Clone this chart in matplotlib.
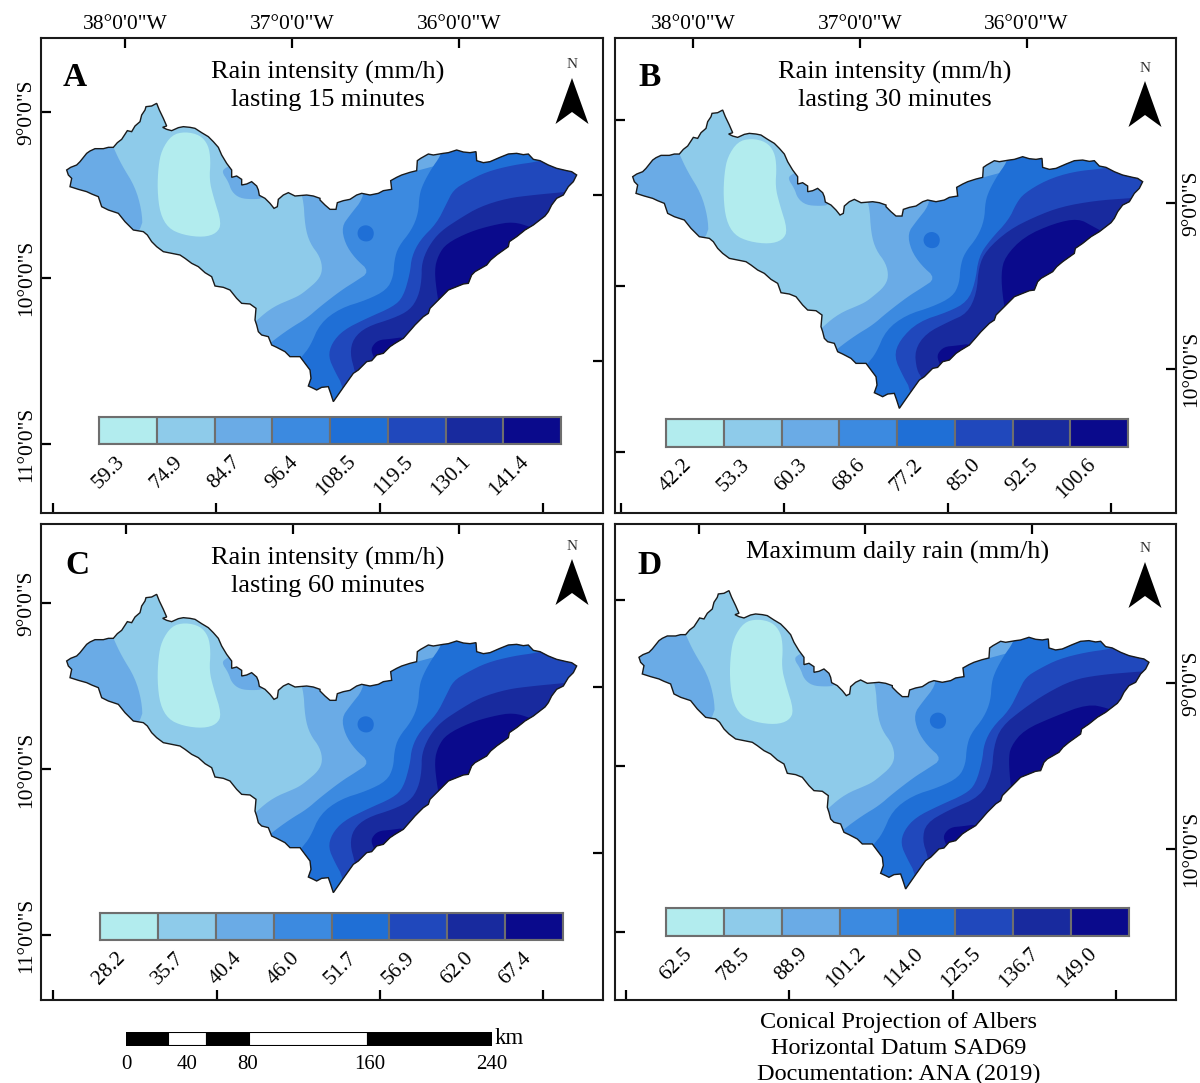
# plot.py - four rain intensity maps of the basin with class colour bars
import numpy as np
import matplotlib
matplotlib.use("Agg")
import matplotlib.pyplot as plt
from matplotlib.patches import Polygon

plt.rcParams["font.family"] = ["Liberation Serif", "DejaVu Serif"]

W, H = 1200, 1083

class_colors = ["#b2ecee", "#8ecbea", "#6aabe6", "#3c8ae0", "#1f6fd6", "#2048bc", "#182a9e", "#0a0a8c"]

labels_a = ["59.3", "74.9", "84.7", "96.4", "108.5", "119.5", "130.1", "141.4"]
labels_b = ["42.2", "53.3", "60.3", "68.6", "77.2", "85.0", "92.5", "100.6"]
labels_c = ["28.2", "35.7", "40.4", "46.0", "51.7", "56.9", "62.0", "67.4"]
labels_d = ["62.5", "78.5", "88.9", "101.2", "114.0", "125.5", "136.7", "149.0"]

lon_ticks = [125.5, 292.5, 459]
lon_labels = ["38°0'0\"W", "37°0'0\"W", "36°0'0\"W"]
lat_ticks = [112, 278, 444]
lat_labels = ["9°0'0\"S", "10°0'0\"S", "11°0'0\"S"]
right_ticks = [195, 361]
bottom_ticks = [53, 216.5, 380, 543]

# basin outline, two sheets of map units
outline_west = [(80,240),(92,232),(110,225),(120,215),(128,205),(140,190),(150,183),(165,176),(190,176),(205,172),(220,172),
    (232,158),(245,148),(262,122),(275,125),(285,108),(300,95),(305,75),(315,60),(318,50),(335,48),(350,40),(358,60),(370,85),
    (380,108),(368,112),(380,118),(395,122),(415,113),(430,110),(450,112),(465,115),(485,128),(505,140),(520,155),(535,172),
    (545,195),(560,220),(575,240),(575,262),(590,258),(605,268),(605,285),(620,282),(635,275),(650,288),(655,300),(658,316),
    (675,325),(690,340),(702,355),(712,350),(715,328),(730,315),(745,308),(765,318),(800,315),(820,318),(840,325)]
outline_east = [(60,180),(75,195),(90,208),(108,208),(112,188),(130,182),(150,178),(170,165),(185,160),(210,165),(235,160),
    (250,152),(275,148),(272,122),(290,112),(305,105),(330,97),(350,92),(352,62),(362,55),(385,42),(400,45),(430,40),(445,38),
    (470,30),(490,36),(510,38),(528,35),(530,62),(550,68),(570,65),(600,52),(625,42),(650,40),(670,44),(685,42),(700,58),
    (720,62),(745,75),(770,85),(800,92),(815,95),(830,105),(820,125),(805,140),(790,165),(770,175),(755,195),(745,215),
    (735,228),(700,255),(675,270),(650,290),(628,305),(625,320),(590,345),(572,360),(560,375),(525,395),(515,405),(505,430),
    (490,432),(470,440),(445,450),(420,475),(405,490),(390,505),(385,520),(370,530),(345,555),(325,578),(310,595),(285,610),
    (270,620),(250,640),(230,645),(215,662),(200,665),(175,690),(160,700),(130,742),(100,785),(92,760),(85,740),(65,742),
    (50,750),(40,745),(25,738),(33,715),(30,690),(15,670),(0,650)]
outline_south = [(750,800),(735,785),(710,772),(695,765),(685,740),(665,735),(655,725),(650,705),(645,690),(648,655),(630,642),
    (605,640),(590,625),(570,600),(550,592),(525,588),(515,560),(495,548),(475,530),(455,520),(435,505),(420,495),(395,490),
    (370,485),(350,470),(335,455),(322,435),(310,425),(280,420),(265,405),(255,395),(235,370),(205,360),(185,350),(175,320),
    (155,312),(140,305),(115,298),(90,290),(95,265),(85,255)]

# class areas, west sheet
bean = [(355,230),(365,180),(395,135),(435,125),(480,135),(505,165),(512,210),(508,270),(520,320),(545,400),(530,430),
    (490,442),(430,435),(385,415),(360,370),(352,300)]
west_band = [(220,172),(245,225),(285,290),(305,360),(308,420),(200,520),(20,320),(60,130),(200,120)]
north_patch = [(545,245),(558,232),(590,220),(680,290),(670,325),(640,328),(600,325),(575,305),(565,275)]

# class areas, east sheet
middle_band = [(-20,100),(10,170),(15,260),(30,310),(60,350),(68,390),(55,420),(20,450),(0,465),(-20,475),(-80,500),
    (-130,540),(-300,700),(-100,1000),(1100,1000),(1100,-100)]
band_3 = [(190,130),(190,175),(150,225),(125,260),(135,310),(165,355),(210,395),(165,425),(125,450),(60,500),(20,535),
    (-30,565),(-85,605),(-200,700),(-100,1000),(1100,1000),(1100,-100)]
spot = [(171,280),(178,262),(197,254),(216,262),(223,280),(216,300),(197,306),(178,298)]
band_4 = [(440,0),(420,50),(395,85),(370,130),(358,165),(355,220),(335,270),(295,320),(283,360),(280,410),(260,450),
    (200,480),(120,505),(60,550),(30,620),(5,650),(-30,700),(-100,1000),(1100,1000),(1100,-100)]
band_5 = [(800,40),(715,65),(640,75),(560,95),(500,125),(460,150),(440,190),(410,250),(360,300),(335,350),(330,400),
    (310,470),(280,500),(200,535),(130,570),(95,610),(85,650),(105,695),(130,740),(150,900),(1100,900),(1100,40)]
band_6 = [(850,150),(785,157),(700,165),(620,175),(540,200),(480,235),(420,275),(385,320),(365,370),(365,420),(355,470),
    (330,510),(280,535),(200,560),(160,595),(150,640),(165,695),(180,780),(1100,780),(1100,150)]
band_7 = [(720,275),(695,262),(640,245),(580,255),(510,275),(440,310),(415,345),(403,390),(412,470),(430,560),(800,400)]
south_7 = [(215,640),(215,620),(235,600),(270,597),(320,590),(340,640),(240,690)]

# panels B and D differ from A and C in the darkest classes
band_5_b = [(800,50),(716,65),(620,75),(541,100),(474,140),(451,170),(428,220),(372,280),(338,330),(327,410),(304,465),
    (248,495),(157,525),(101,580),(84,630),(112,690),(135,730),(150,900),(1100,900),(1100,50)]
band_6_b = [(850,150),(784,155),(688,162),(586,180),(507,210),(428,250),(361,310),(338,360),(332,440),(304,500),(248,525),
    (180,560),(146,610),(152,670),(169,695),(180,780),(1100,780),(1100,150)]
band_7_b = [(720,260),(682,240),(637,215),(564,230),(474,270),(417,330),(405,380),(411,460),(430,560),(800,400)]
band_6_d = [(850,130),(799,133),(680,143),(601,158),(522,198),(455,243),(387,298),(364,358),(359,438),(325,508),(229,548),
    (161,588),(150,638),(167,688),(180,780),(1100,780),(1100,130)]
band_7_d = [(740,260),(709,243),(646,230),(545,268),(455,308),(415,358),(409,398),(415,478),(430,560),(800,400)]

frames = {"A": (41, 38, 603, 513), "B": (614.5, 38, 1175.5, 513), "C": (41, 524, 603, 1000), "D": (614.5, 524, 1175.5, 1000)}
offsets = {"A": (0, 0), "B": (566, 6.7), "C": (0, 491), "D": (572.3, 487.3)}
tick_shift = {"A": 0, "B": 1.5, "C": 0.5, "D": 0.7}
bars = {"A": (99, 417, 561, 444), "B": (666, 419, 1128, 447), "C": (100, 912.5, 563, 940), "D": (666, 908, 1129, 936)}
bar_labels = {"A": labels_a, "B": labels_b, "C": labels_c, "D": labels_d}
titles = {"A": (328, 86, "Rain intensity (mm/h)\nlasting 15 minutes"), "B": (895, 86, "Rain intensity (mm/h)\nlasting 30 minutes"),
    "C": (328, 572, "Rain intensity (mm/h)\nlasting 60 minutes"), "D": (898, 552, "Maximum daily rain (mm/h)")}
letters = {"A": (75, 77), "B": (650, 77), "C": (77, 565), "D": (650, 565)}
norths = {"A": (572, 65), "B": (1145, 68), "C": (572, 546), "D": (1145, 549)}
dark_bands = {"A": (band_5, band_6, band_7), "B": (band_5_b, band_6_b, band_7_b), "C": (band_5, band_6, band_7), "D": (band_5, band_6_d, band_7_d)}

scale_edges = [0, 27.5, 53, 80.5, 159, 240]
scale_ticks = [0, 40, 80, 160, 240]


def west(pts):
    return np.array(pts, float) / 3 + [40, 90]


def east(pts):
    return np.array(pts, float) / 3 + [300, 140]


def smooth(pts, n=2):
    # corner cutting so class edges look like contours
    for _ in range(n):
        nxt = np.roll(pts, -1, axis=0)
        pts = np.column_stack([0.75 * pts + 0.25 * nxt, 0.25 * pts + 0.75 * nxt]).reshape(-1, 2)
    return pts


def rect(x0, y0, x1, y1):
    return [x0 / W, 1 - y1 / H, (x1 - x0) / W, (y1 - y0) / H]


outline = np.vstack([west(outline_west), east(outline_east), west(outline_south)])

fig = plt.figure(figsize=(W / 100, H / 100), dpi=100)

for key in "ABCD":
    x0, y0, x1, y1 = frames[key]
    dx, dy = offsets[key]
    shift = tick_shift[key]
    ax = fig.add_axes(rect(x0, y0, x1, y1))
    ax.set_xlim(x0 - dx, x1 - dx)
    ax.set_ylim(y1 - dy, y0 - dy)
    for s in ax.spines.values():
        s.set_linewidth(1.5)
        s.set_color("#1a1a1a")

    b5, b6, b7 = dark_bands[key]
    areas = [(west(west_band), 2), (west(north_patch), 2), (west(bean), 0), (east(middle_band), 2), (east(band_3), 3),
        (east(spot), 4), (east(band_4), 4), (east(b5), 5), (east(b6), 6), (east(b7), 7), (east(south_7), 7)]

    basin = Polygon(outline, closed=True, fc=class_colors[1], ec="none", zorder=1)
    ax.add_patch(basin)
    for pts, c in areas:
        p = Polygon(smooth(pts), closed=True, fc=class_colors[c], ec="none", zorder=2)
        ax.add_patch(p)
        p.set_clip_path(basin)
    ax.add_patch(Polygon(outline, closed=True, fc="none", ec="#1a1a1a", lw=1.0, zorder=3))

    # ticks point inward on all sides, labels only on the outer edges
    ax.set_xticks([t + shift for t in bottom_ticks])
    ax.set_yticks([t + shift for t in lat_ticks])
    ax.tick_params(direction="in", length=7, width=1.6, labelbottom=False, labelleft=False)
    top = ax.secondary_xaxis("top")
    top.set_xticks([t + shift for t in lon_ticks])
    top.tick_params(direction="in", length=7, width=1.6, pad=3, labelsize=15.5, labeltop=key in "AB")
    top.set_xticklabels(lon_labels)
    top.spines["top"].set_visible(False)
    rgt = ax.secondary_yaxis("right")
    rgt.set_yticks([t + shift for t in right_ticks])
    rgt.tick_params(direction="in", length=7, width=1.6, labelright=False)
    rgt.spines["right"].set_visible(False)

    if key in "AC":
        for t, lab in zip(lat_ticks, lat_labels):
            ax.annotate(lab, (0, t + shift), xycoords=("axes fraction", "data"), xytext=(-10.5, 0), textcoords="offset points",
                rotation=90, ha="center", va="center", fontsize=15.5, annotation_clip=False)
    else:
        for t, lab in zip(right_ticks, lat_labels):
            ax.annotate(lab, (1, t + shift), xycoords=("axes fraction", "data"), xytext=(11.5, 0), textcoords="offset points",
                rotation=90, ha="center", va="center", fontsize=15.5, annotation_clip=False)

    tx, ty, title = titles[key]
    fig.text(tx / W, 1 - ty / H, title, ha="center", va="center", fontsize=19, linespacing=1.32)
    lx, ly = letters[key]
    fig.text(lx / W, 1 - ly / H, key, ha="center", va="center", fontsize=24, fontweight="bold")

    nx, ny = norths[key]
    fig.text(nx / W, 1 - ny / H, "N", ha="center", va="center", fontsize=11, color="#333333")
    arrow = np.array([(0, 13), (-16.5, 59), (0, 47), (16.5, 59)]) + [nx, ny]
    ax.fill(arrow[:, 0] - dx, arrow[:, 1] - dy, color="black", lw=0, zorder=4)

    # class colour bar
    cax = fig.add_axes(rect(*bars[key]), zorder=5)
    cax.bar(range(8), np.ones(8), width=1, color=class_colors, edgecolor="#6e6e6e", linewidth=1.5)
    cax.set_xlim(-0.5, 7.5)
    cax.set_ylim(0, 1)
    cax.set_yticks([])
    cax.set_xticks(np.arange(8) - 0.22)
    cax.set_xticklabels(bar_labels[key], rotation=45, ha="right", rotation_mode="anchor", fontsize=15.5)
    cax.tick_params(axis="x", length=0, pad=6)
    for s in cax.spines.values():
        s.set_color("#6e6e6e")
        s.set_linewidth(1.5)

# scale bar
sax = fig.add_axes(rect(126, 1032, 492, 1046))
for i in range(len(scale_edges) - 1):
    sax.barh(0, scale_edges[i + 1] - scale_edges[i], left=scale_edges[i], height=1, color="black" if i % 2 == 0 else "white",
        edgecolor="black", linewidth=1.5)
sax.set_xlim(0, 240)
sax.set_ylim(-0.5, 0.5)
sax.set_yticks([])
sax.set_xticks(scale_ticks)
sax.set_xticklabels([str(t) for t in scale_ticks], fontsize=15)
sax.tick_params(axis="x", length=0, pad=6.5)
for s in sax.spines.values():
    s.set_visible(False)
fig.text(509 / W, 1 - 1039 / H, "km", ha="center", va="center", fontsize=16.5)

fig.text(899 / W, 1 - 1048.5 / H, "Conical Projection of Albers\nHorizontal Datum SAD69\nDocumentation: ANA (2019)",
    ha="center", va="center", fontsize=17.5, linespacing=1.28)

fig.savefig("out.png", dpi=100)
